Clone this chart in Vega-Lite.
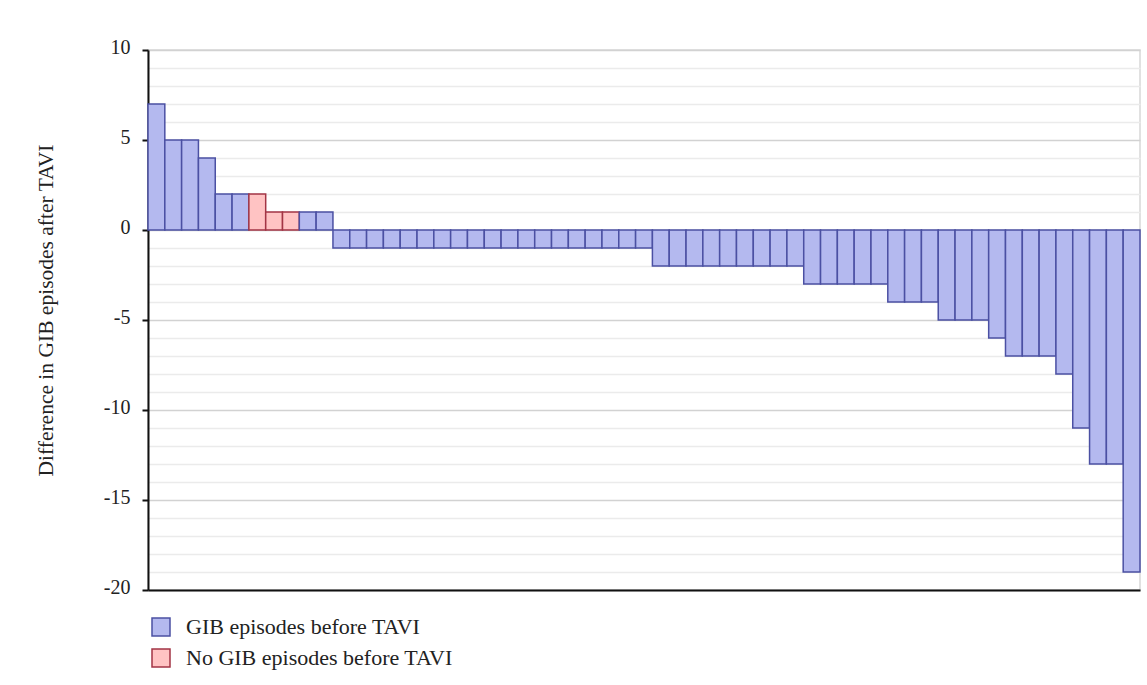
{
  "$schema": "https://vega.github.io/schema/vega-lite/v6.json",
  "width": 992,
  "height": 540,
  "autosize": {"type": "none"},
  "padding": {"left": 148, "top": 50, "right": 7, "bottom": 95},
  "background": "white",
  "config": {
    "view": {"stroke": "#d8d8d8", "strokeWidth": 1.5},
    "font": "Liberation Serif"
  },
  "data": {
    "values": [
      {"id": 1, "diff": 7, "group": "GIB episodes before TAVI"},
      {"id": 2, "diff": 5, "group": "GIB episodes before TAVI"},
      {"id": 3, "diff": 5, "group": "GIB episodes before TAVI"},
      {"id": 4, "diff": 4, "group": "GIB episodes before TAVI"},
      {"id": 5, "diff": 2, "group": "GIB episodes before TAVI"},
      {"id": 6, "diff": 2, "group": "GIB episodes before TAVI"},
      {"id": 7, "diff": 2, "group": "No GIB episodes before TAVI"},
      {"id": 8, "diff": 1, "group": "No GIB episodes before TAVI"},
      {"id": 9, "diff": 1, "group": "No GIB episodes before TAVI"},
      {"id": 10, "diff": 1, "group": "GIB episodes before TAVI"},
      {"id": 11, "diff": 1, "group": "GIB episodes before TAVI"},
      {"id": 12, "diff": -1, "group": "GIB episodes before TAVI"},
      {"id": 13, "diff": -1, "group": "GIB episodes before TAVI"},
      {"id": 14, "diff": -1, "group": "GIB episodes before TAVI"},
      {"id": 15, "diff": -1, "group": "GIB episodes before TAVI"},
      {"id": 16, "diff": -1, "group": "GIB episodes before TAVI"},
      {"id": 17, "diff": -1, "group": "GIB episodes before TAVI"},
      {"id": 18, "diff": -1, "group": "GIB episodes before TAVI"},
      {"id": 19, "diff": -1, "group": "GIB episodes before TAVI"},
      {"id": 20, "diff": -1, "group": "GIB episodes before TAVI"},
      {"id": 21, "diff": -1, "group": "GIB episodes before TAVI"},
      {"id": 22, "diff": -1, "group": "GIB episodes before TAVI"},
      {"id": 23, "diff": -1, "group": "GIB episodes before TAVI"},
      {"id": 24, "diff": -1, "group": "GIB episodes before TAVI"},
      {"id": 25, "diff": -1, "group": "GIB episodes before TAVI"},
      {"id": 26, "diff": -1, "group": "GIB episodes before TAVI"},
      {"id": 27, "diff": -1, "group": "GIB episodes before TAVI"},
      {"id": 28, "diff": -1, "group": "GIB episodes before TAVI"},
      {"id": 29, "diff": -1, "group": "GIB episodes before TAVI"},
      {"id": 30, "diff": -1, "group": "GIB episodes before TAVI"},
      {"id": 31, "diff": -2, "group": "GIB episodes before TAVI"},
      {"id": 32, "diff": -2, "group": "GIB episodes before TAVI"},
      {"id": 33, "diff": -2, "group": "GIB episodes before TAVI"},
      {"id": 34, "diff": -2, "group": "GIB episodes before TAVI"},
      {"id": 35, "diff": -2, "group": "GIB episodes before TAVI"},
      {"id": 36, "diff": -2, "group": "GIB episodes before TAVI"},
      {"id": 37, "diff": -2, "group": "GIB episodes before TAVI"},
      {"id": 38, "diff": -2, "group": "GIB episodes before TAVI"},
      {"id": 39, "diff": -2, "group": "GIB episodes before TAVI"},
      {"id": 40, "diff": -3, "group": "GIB episodes before TAVI"},
      {"id": 41, "diff": -3, "group": "GIB episodes before TAVI"},
      {"id": 42, "diff": -3, "group": "GIB episodes before TAVI"},
      {"id": 43, "diff": -3, "group": "GIB episodes before TAVI"},
      {"id": 44, "diff": -3, "group": "GIB episodes before TAVI"},
      {"id": 45, "diff": -4, "group": "GIB episodes before TAVI"},
      {"id": 46, "diff": -4, "group": "GIB episodes before TAVI"},
      {"id": 47, "diff": -4, "group": "GIB episodes before TAVI"},
      {"id": 48, "diff": -5, "group": "GIB episodes before TAVI"},
      {"id": 49, "diff": -5, "group": "GIB episodes before TAVI"},
      {"id": 50, "diff": -5, "group": "GIB episodes before TAVI"},
      {"id": 51, "diff": -6, "group": "GIB episodes before TAVI"},
      {"id": 52, "diff": -7, "group": "GIB episodes before TAVI"},
      {"id": 53, "diff": -7, "group": "GIB episodes before TAVI"},
      {"id": 54, "diff": -7, "group": "GIB episodes before TAVI"},
      {"id": 55, "diff": -8, "group": "GIB episodes before TAVI"},
      {"id": 56, "diff": -11, "group": "GIB episodes before TAVI"},
      {"id": 57, "diff": -13, "group": "GIB episodes before TAVI"},
      {"id": 58, "diff": -13, "group": "GIB episodes before TAVI"},
      {"id": 59, "diff": -19, "group": "GIB episodes before TAVI"}
    ]
  },
  "mark": {"type": "bar", "strokeWidth": 1.5, "fillOpacity": 1},
  "encoding": {
    "x": {
      "field": "id",
      "type": "ordinal",
      "sort": "ascending",
      "scale": {"paddingInner": 0, "paddingOuter": 0},
      "axis": {
        "title": null,
        "labels": false,
        "ticks": false,
        "grid": false,
        "domainColor": "#111",
        "domainWidth": 2
      }
    },
    "y": {
      "field": "diff",
      "type": "quantitative",
      "scale": {"domain": [-20, 10], "nice": false},
      "axis": {
        "title": "Difference in GIB episodes after TAVI",
        "titleFont": "Liberation Serif",
        "titleFontSize": 21.5,
        "titleFontWeight": "normal",
        "titleColor": "#222",
        "titlePadding": 46,
        "titleY": 260,
        "values": [-20,-19,-18,-17,-16,-15,-14,-13,-12,-11,-10,-9,-8,-7,-6,-5,-4,-3,-2,-1,0,1,2,3,4,5,6,7,8,9,10],
        "labelExpr": "datum.value % 5 === 0 ? ('' + datum.value) : ''",
        "labelFont": "Liberation Serif",
        "labelFontSize": 20,
        "labelColor": "#222",
        "labelPadding": 12,
        "labelOffset": -3,
        "tickColor": "#111",
        "tickWidth": 2,
        "tickSize": 6,
        "tickOpacity": {"condition": {"test": "datum.value % 5 === 0", "value": 1}, "value": 0},
        "domainColor": "#111",
        "domainWidth": 2,
        "grid": true,
        "gridColor": {"condition": {"test": "datum.value % 5 === 0", "value": "#d2d2d2"}, "value": "#ebebeb"},
        "gridWidth": 1.5
      }
    },
    "color": {
      "field": "group",
      "type": "nominal",
      "scale": {
        "domain": ["GIB episodes before TAVI", "No GIB episodes before TAVI"],
        "range": ["#b4b9ef", "#ffc3c3"]
      },
      "legend": {
        "title": null,
        "orient": "none",
        "legendX": 2,
        "legendY": 566,
        "symbolType": "square",
        "symbolSize": 324,
        "symbolStrokeWidth": 1.5,
        "labelFont": "Liberation Serif",
        "labelFontSize": 22,
        "labelLimit": 0,
        "labelColor": "#222",
        "labelOffset": 14,
        "rowPadding": 7,
        "padding": 0
      }
    },
    "stroke": {
      "field": "group",
      "type": "nominal",
      "scale": {
        "domain": ["GIB episodes before TAVI", "No GIB episodes before TAVI"],
        "range": ["#4b50a3", "#a33545"]
      },
      "legend": {
        "title": null,
        "orient": "none",
        "legendX": 2,
        "legendY": 566,
        "symbolType": "square",
        "symbolSize": 324,
        "symbolStrokeWidth": 1.5,
        "labelFont": "Liberation Serif",
        "labelFontSize": 22,
        "labelLimit": 0,
        "labelColor": "#222",
        "labelOffset": 14,
        "rowPadding": 7,
        "padding": 0
      }
    }
  }
}
